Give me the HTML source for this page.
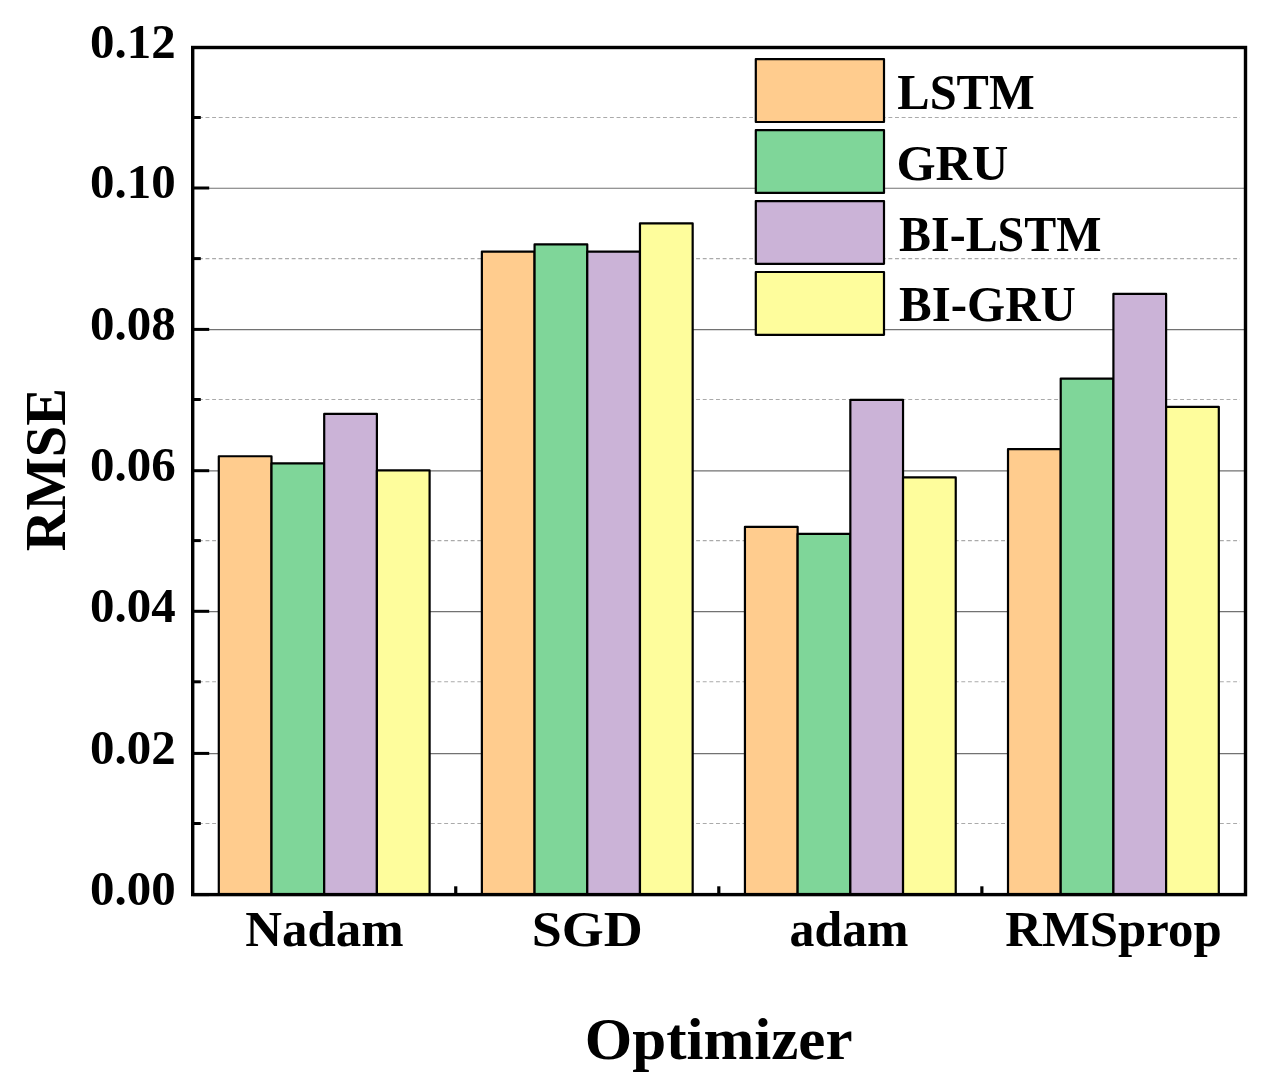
<!DOCTYPE html><html><head><meta charset="utf-8"><style>html,body{margin:0;padding:0;background:#fff;width:1264px;height:1092px;overflow:hidden}svg{display:block}text{font-family:"Liberation Serif",serif;font-weight:bold;fill:#000}</style></head><body>
<svg width="1264" height="1092" viewBox="0 0 1264 1092">
<rect width="1264" height="1092" fill="#fff"/>
<line x1="198.87" y1="823.5" x2="1240" y2="823.5" stroke="#aaaaaa" stroke-width="1.1" stroke-dasharray="3.9 2.73"/>
<line x1="198.87" y1="681.8" x2="1240" y2="681.8" stroke="#aaaaaa" stroke-width="1.1" stroke-dasharray="3.9 2.73"/>
<line x1="198.87" y1="540.6" x2="1240" y2="540.6" stroke="#aaaaaa" stroke-width="1.1" stroke-dasharray="3.9 2.73"/>
<line x1="198.87" y1="399.5" x2="1240" y2="399.5" stroke="#aaaaaa" stroke-width="1.1" stroke-dasharray="3.9 2.73"/>
<line x1="198.87" y1="258.6" x2="1240" y2="258.6" stroke="#aaaaaa" stroke-width="1.1" stroke-dasharray="3.9 2.73"/>
<line x1="198.87" y1="117.5" x2="1240" y2="117.5" stroke="#aaaaaa" stroke-width="1.1" stroke-dasharray="3.9 2.73"/>
<line x1="194" y1="753.65" x2="1244" y2="753.65" stroke="#727272" stroke-width="1.2"/>
<line x1="194" y1="611.55" x2="1244" y2="611.55" stroke="#727272" stroke-width="1.2"/>
<line x1="194" y1="470.95" x2="1244" y2="470.95" stroke="#727272" stroke-width="1.2"/>
<line x1="194" y1="329.65" x2="1244" y2="329.65" stroke="#727272" stroke-width="1.2"/>
<line x1="194" y1="188.25" x2="1244" y2="188.25" stroke="#727272" stroke-width="1.2"/>
<rect x="218.80" y="456.27" width="52.70" height="438.33" fill="#FFCC8E" stroke="#000" stroke-width="2.2" stroke-linejoin="round"/>
<rect x="271.50" y="463.33" width="52.70" height="431.27" fill="#7FD699" stroke="#000" stroke-width="2.2" stroke-linejoin="round"/>
<rect x="324.20" y="413.91" width="52.70" height="480.69" fill="#CBB3D7" stroke="#000" stroke-width="2.2" stroke-linejoin="round"/>
<rect x="376.90" y="470.39" width="52.70" height="424.21" fill="#FEFD9C" stroke="#000" stroke-width="2.2" stroke-linejoin="round"/>
<rect x="481.87" y="251.53" width="52.70" height="643.07" fill="#FFCC8E" stroke="#000" stroke-width="2.2" stroke-linejoin="round"/>
<rect x="534.57" y="244.47" width="52.70" height="650.13" fill="#7FD699" stroke="#000" stroke-width="2.2" stroke-linejoin="round"/>
<rect x="587.27" y="251.53" width="52.70" height="643.07" fill="#CBB3D7" stroke="#000" stroke-width="2.2" stroke-linejoin="round"/>
<rect x="639.97" y="223.29" width="52.70" height="671.31" fill="#FEFD9C" stroke="#000" stroke-width="2.2" stroke-linejoin="round"/>
<rect x="744.94" y="526.87" width="52.70" height="367.73" fill="#FFCC8E" stroke="#000" stroke-width="2.2" stroke-linejoin="round"/>
<rect x="797.64" y="533.93" width="52.70" height="360.67" fill="#7FD699" stroke="#000" stroke-width="2.2" stroke-linejoin="round"/>
<rect x="850.34" y="399.79" width="52.70" height="494.81" fill="#CBB3D7" stroke="#000" stroke-width="2.2" stroke-linejoin="round"/>
<rect x="903.04" y="477.45" width="52.70" height="417.15" fill="#FEFD9C" stroke="#000" stroke-width="2.2" stroke-linejoin="round"/>
<rect x="1008.01" y="449.21" width="52.70" height="445.39" fill="#FFCC8E" stroke="#000" stroke-width="2.2" stroke-linejoin="round"/>
<rect x="1060.71" y="378.61" width="52.70" height="515.99" fill="#7FD699" stroke="#000" stroke-width="2.2" stroke-linejoin="round"/>
<rect x="1113.41" y="293.89" width="52.70" height="600.71" fill="#CBB3D7" stroke="#000" stroke-width="2.2" stroke-linejoin="round"/>
<rect x="1166.11" y="406.85" width="52.70" height="487.75" fill="#FEFD9C" stroke="#000" stroke-width="2.2" stroke-linejoin="round"/>
<rect x="755.8" y="59.20" width="128.2" height="62.8" fill="#FFCC8E" stroke="#000" stroke-width="2.2" stroke-linejoin="round"/>
<text x="897.33" y="108.70" font-size="50" textLength="137.32" lengthAdjust="spacingAndGlyphs">LSTM</text>
<rect x="755.8" y="130.13" width="128.2" height="62.8" fill="#7FD699" stroke="#000" stroke-width="2.2" stroke-linejoin="round"/>
<text x="896.49" y="179.63" font-size="50" textLength="111.73" lengthAdjust="spacingAndGlyphs">GRU</text>
<rect x="755.8" y="201.06" width="128.2" height="62.8" fill="#CBB3D7" stroke="#000" stroke-width="2.2" stroke-linejoin="round"/>
<text x="899.04" y="250.56" font-size="50" textLength="202.48" lengthAdjust="spacingAndGlyphs">BI-LSTM</text>
<rect x="755.8" y="271.99" width="128.2" height="62.8" fill="#FEFD9C" stroke="#000" stroke-width="2.2" stroke-linejoin="round"/>
<text x="899.02" y="321.49" font-size="50" textLength="176.93" lengthAdjust="spacingAndGlyphs">BI-GRU</text>
<rect x="192.7" y="47.5" width="1052.8" height="847.1" fill="none" stroke="#000" stroke-width="3.4" stroke-linejoin="miter"/>
<line x1="192.7" y1="894.60" x2="209.2" y2="894.60" stroke="#000" stroke-width="3"/>
<line x1="192.7" y1="823.50" x2="200.79999999999998" y2="823.50" stroke="#000" stroke-width="3"/>
<line x1="192.7" y1="753.40" x2="209.2" y2="753.40" stroke="#000" stroke-width="3"/>
<line x1="192.7" y1="681.80" x2="200.79999999999998" y2="681.80" stroke="#000" stroke-width="3"/>
<line x1="192.7" y1="611.30" x2="209.2" y2="611.30" stroke="#000" stroke-width="3"/>
<line x1="192.7" y1="540.60" x2="200.79999999999998" y2="540.60" stroke="#000" stroke-width="3"/>
<line x1="192.7" y1="470.70" x2="209.2" y2="470.70" stroke="#000" stroke-width="3"/>
<line x1="192.7" y1="399.50" x2="200.79999999999998" y2="399.50" stroke="#000" stroke-width="3"/>
<line x1="192.7" y1="329.40" x2="209.2" y2="329.40" stroke="#000" stroke-width="3"/>
<line x1="192.7" y1="258.60" x2="200.79999999999998" y2="258.60" stroke="#000" stroke-width="3"/>
<line x1="192.7" y1="188.00" x2="209.2" y2="188.00" stroke="#000" stroke-width="3"/>
<line x1="192.7" y1="117.50" x2="200.79999999999998" y2="117.50" stroke="#000" stroke-width="3"/>
<line x1="192.7" y1="47.50" x2="209.2" y2="47.50" stroke="#000" stroke-width="3"/>
<line x1="455.74" y1="894.6" x2="455.74" y2="886.3" stroke="#000" stroke-width="3.2"/>
<line x1="718.81" y1="894.6" x2="718.81" y2="886.3" stroke="#000" stroke-width="3.2"/>
<line x1="981.88" y1="894.6" x2="981.88" y2="886.3" stroke="#000" stroke-width="3.2"/>
<text x="90.08" y="904.90" font-size="48.5" textLength="85.61" lengthAdjust="spacingAndGlyphs">0.00</text>
<text x="90.08" y="763.70" font-size="48.5" textLength="85.61" lengthAdjust="spacingAndGlyphs">0.02</text>
<text x="90.08" y="621.60" font-size="48.5" textLength="85.61" lengthAdjust="spacingAndGlyphs">0.04</text>
<text x="90.08" y="481.00" font-size="48.5" textLength="85.61" lengthAdjust="spacingAndGlyphs">0.06</text>
<text x="90.08" y="339.70" font-size="48.5" textLength="85.61" lengthAdjust="spacingAndGlyphs">0.08</text>
<text x="90.08" y="198.30" font-size="48.5" textLength="85.61" lengthAdjust="spacingAndGlyphs">0.10</text>
<text x="90.08" y="57.80" font-size="48.5" textLength="85.61" lengthAdjust="spacingAndGlyphs">0.12</text>
<text x="245.20" y="946.40" font-size="51" textLength="158.38" lengthAdjust="spacingAndGlyphs">Nadam</text>
<text x="531.72" y="946.40" font-size="51" textLength="111.02" lengthAdjust="spacingAndGlyphs">SGD</text>
<text x="789.55" y="946.40" font-size="51" textLength="118.99" lengthAdjust="spacingAndGlyphs">adam</text>
<text x="1005.20" y="946.40" font-size="51" textLength="216.47" lengthAdjust="spacingAndGlyphs">RMSprop</text>
<text x="584.75" y="1058.80" font-size="60" textLength="267.81" lengthAdjust="spacingAndGlyphs">Optimizer</text>
<g transform="translate(64.9,550.4) rotate(-90)"><text x="-0.97" y="0.00" font-size="58" textLength="163.39" lengthAdjust="spacingAndGlyphs">RMSE</text></g>
</svg></body></html>
